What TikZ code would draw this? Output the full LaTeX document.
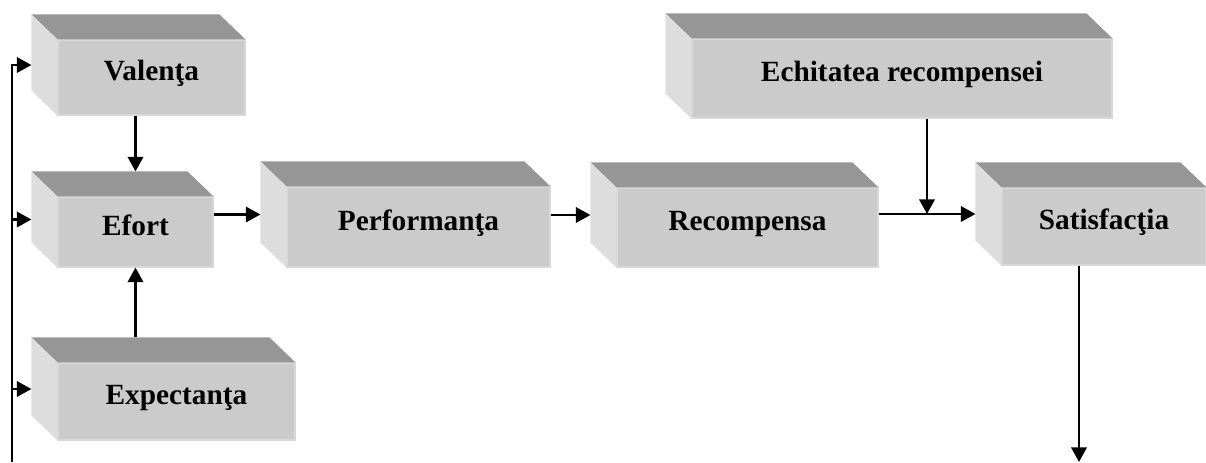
\documentclass[tikz,border=0pt]{standalone}
\usepackage{fontspec}
\setmainfont{Liberation Serif}
\usetikzlibrary{positioning,arrows.meta,calc}
\definecolor{slabtop}{HTML}{969696}
\definecolor{slabfront}{HTML}{CBCBCB}
\definecolor{slabside}{HTML}{DDDDDD}
\definecolor{slabedge}{HTML}{D8D8D8}
\tikzset{
  frontface/.style={draw=slabedge, line width=0.8pt, fill=slabfront, inner sep=0pt},
  topface/.style  ={fill=slabtop},
  sideface/.style ={fill=slabside},
  slabtext/.style ={anchor=base, font=\fontsize{22}{26}\selectfont\bfseries},
  arr/.style      ={-{Triangle[length=11pt,width=11.5pt]}, line width=2pt},
}
% name, x1, y1, x2, y2 (front face, pixels), text
\newcommand{\slab}[6]{%
  \node[frontface, minimum width={(#4-#2)*0.75pt}, minimum height={(#5-#3)*0.75pt}]
    (#1) at ({(#2+#4)/2},{(#3+#5)/2}) {};%
  \fill[topface] (#1.north west) -- ++(-26,-25) -- ($(#1.north east)+(-26,-25)$)
    -- (#1.north east) -- cycle;%
  \fill[sideface] (#1.north west) -- ++(-26,-25) -- ($(#1.south west)+(-26,-25)$)
    -- (#1.south west) -- cycle;%
  \coordinate (#1-back) at ($(#1.north)+(-26,-25)$);%
  \coordinate (#1-side) at ($(#1.west)+(-26,-12.5)$);%
  \node[slabtext] (#1-txt) at ($(#1.center)+(0,3)$) {#6};%
}

\begin{document}
\begin{tikzpicture}[x=0.75pt, y=-0.75pt]
  \useasboundingbox (0,0) rectangle (1206,462);

  \slab{val}{58}{40}{245}{115}{Valenţa}
  \slab{eff}{58}{197}{213}{267}{Efort}
  \slab{exp}{58}{363}{295}{440}{Expectanţa}
  \slab{perf}{287}{187}{550}{267}{Performanţa}
  \slab{rec}{617}{188}{878}{267}{Recompensa}
  \slab{ech}{692}{39}{1112}{118}{Echitatea recompensei}
  \slab{sat}{1002}{188}{1206}{265}{Satisfacţia}

  % feedback line on the left
  \coordinate (fbfoot) at (12,462);
  \draw[arr] (fbfoot) |- (val-side);
  \draw[arr] (fbfoot |- eff-side) -- (eff-side);
  \draw[arr] (fbfoot |- exp-side) -- (exp-side);

  \draw[arr] (val.south -| eff.north) -- (eff.north |- eff-back);
  \draw[arr] (exp-back -| eff.south) -- (eff.south);

  \draw[arr] (eff.east |- perf-side) -- (perf-side);
  \draw[arr] (perf.east |- rec-side) -- (rec-side);
  \draw[arr] (rec.east |- sat-side) -- (sat-side);

  \coordinate (jn) at ($(rec.east |- sat-side)!0.5!(sat-side)$);
  \draw[arr] (ech.south -| jn) -- (jn);

  \coordinate (out) at (1079,462);
  \draw[arr] (sat.south -| out) -- (out);
\end{tikzpicture}
\end{document}
